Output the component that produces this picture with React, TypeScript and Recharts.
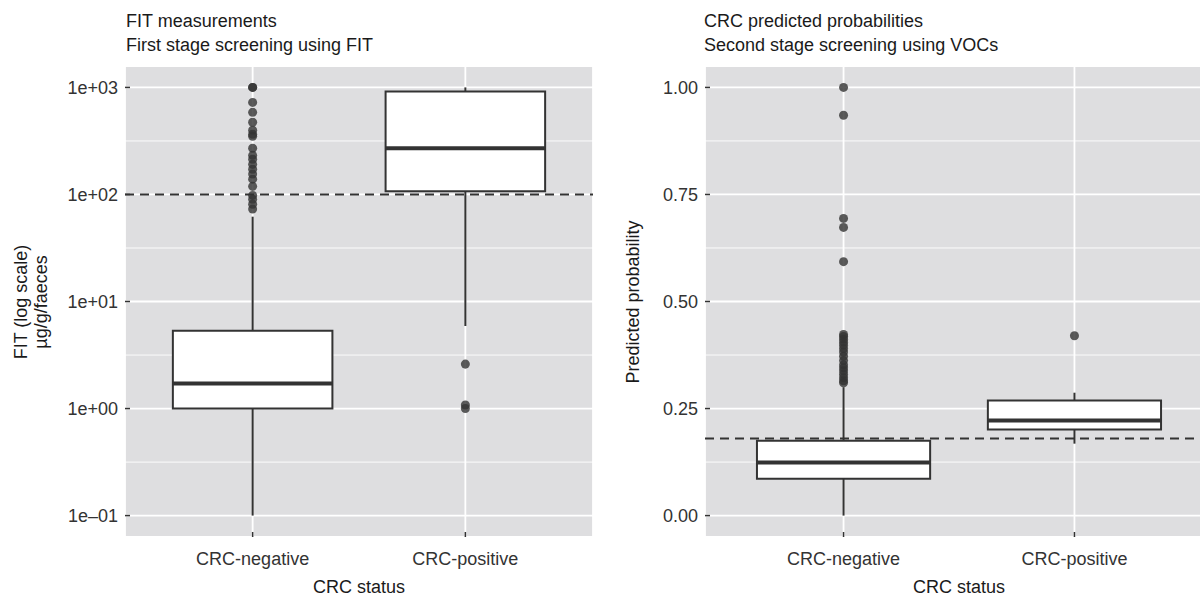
import {
  ComposedChart,
  XAxis,
  YAxis,
  CartesianGrid,
  ReferenceArea,
  ReferenceLine,
  Scatter,
} from 'recharts';

const categories = ['CRC-negative', 'CRC-positive'];

// FIT panel, µg/g faeces on a log scale
const fitTicks = [0.1, 1, 10, 100, 1000];
const fitMinorTicks = [0.316, 3.16, 31.6, 316];
const fitLower = [0.1, 5.9];
const fitQ1 = [1.0, 107];
const fitMedian = [1.71, 270];
const fitQ3 = [5.34, 918];
const fitUpper = [62, 1000];
const fitOutliersNeg = [1000, 1000, 724, 585, 472, 398, 365, 349, 270, 232, 213, 191, 172, 155, 139, 119, 98, 90, 81, 73];
const fitOutliersPos = [2.6, 1.08, 1.0];
const fitCutoff = 100;

// VOC panel, predicted probabilities
const vocTicks = [0, 0.25, 0.5, 0.75, 1];
const vocMinorTicks = [0.125, 0.375, 0.625, 0.875];
const vocLower = [0.0, 0.168];
const vocQ1 = [0.086, 0.201];
const vocMedian = [0.124, 0.222];
const vocQ3 = [0.175, 0.269];
const vocUpper = [0.3, 0.287];
const vocOutliersNeg = [1.0, 0.935, 0.694, 0.673, 0.593, 0.423, 0.418, 0.412, 0.405, 0.398, 0.39, 0.382, 0.372, 0.362, 0.352, 0.345, 0.338, 0.33, 0.322, 0.315, 0.31];
const vocOutliersPos = [0.42];
const vocCutoff = 0.18;

const font = '"Liberation Sans", Arial, Helvetica, sans-serif';
const ink = '#333333';
const panelBg = '#dedee0';

const fmtLog = (v: number) => {
  const e = Math.round(Math.log10(v));
  const sign = e < 0 ? '\u2013' : '+';
  return `1e${sign}${String(Math.abs(e)).padStart(2, '0')}`;
};
const fmtProb = (v: number) => v.toFixed(2);

function YTick(props: any) {
  const { x, y, payload, fmt } = props;
  return (
    <g>
      <line x1={x} x2={x + 5} y1={y} y2={y} stroke={ink} strokeWidth={1.5} />
      <text x={x - 7} y={y + 6.5} textAnchor="end" fontSize={18} fill={ink} fontFamily={font}>
        {fmt(payload.value)}
      </text>
    </g>
  );
}

function XTick(props: any) {
  const { x, y, payload } = props;
  return (
    <g>
      <line x1={x} x2={x} y1={y - 5} y2={y} stroke={ink} strokeWidth={1.5} />
      <text x={x} y={y + 28} textAnchor="middle" fontSize={18} fill={ink} fontFamily={font}>
        {categories[payload.value - 1]}
      </text>
    </g>
  );
}

function boxes(lower: number[], q1: number[], med: number[], q3: number[], upper: number[]) {
  return categories.flatMap((c, i) => {
    const x = i + 1;
    return [
      <ReferenceLine key={c + 'wl'} segment={[{ x, y: lower[i] }, { x, y: q1[i] }]} stroke={ink} strokeWidth={2} />,
      <ReferenceLine key={c + 'wu'} segment={[{ x, y: q3[i] }, { x, y: upper[i] }]} stroke={ink} strokeWidth={2} />,
      <ReferenceArea key={c + 'box'} x1={x - 0.375} x2={x + 0.375} y1={q1[i]} y2={q3[i]} fill="#ffffff" fillOpacity={1} stroke={ink} strokeWidth={2} />,
      <ReferenceLine key={c + 'med'} segment={[{ x: x - 0.375, y: med[i] }, { x: x + 0.375, y: med[i] }]} stroke={ink} strokeWidth={4} />,
    ];
  });
}

const toPoints = (neg: number[], pos: number[]) => [
  ...neg.map((y) => ({ x: 1, y })),
  ...pos.map((y) => ({ x: 2, y })),
];

function Title({ left, lines }: { left: number; lines: string[] }) {
  return (
    <div style={{ position: 'absolute', left, top: 9, fontFamily: font, fontSize: 18, lineHeight: '24px', color: '#1a1a1a', whiteSpace: 'nowrap' }}>
      {lines.map((l) => (
        <div key={l}>{l}</div>
      ))}
    </div>
  );
}

const xTitle = (cx: number) => () => (
  <text x={cx} y={593} textAnchor="middle" fontSize={18} fill="#1a1a1a" fontFamily={font}>
    CRC status
  </text>
);

function FitPanel() {
  return (
    <ComposedChart width={600} height={597} margin={{ top: 66, right: 7, bottom: 0, left: 0 }}>
      <CartesianGrid fill={panelBg} fillOpacity={1} stroke="#ffffff" strokeWidth={0.9} vertical={false} horizontalValues={fitMinorTicks} />
      <CartesianGrid stroke="#ffffff" strokeWidth={1.8} />
      <XAxis
        type="number"
        dataKey="x"
        domain={[0.4, 2.6]}
        ticks={[1, 2]}
        allowDataOverflow
        axisLine={false}
        tickLine={false}
        tickSize={0}
        tickMargin={0}
        height={60}
        tick={(p: any) => <XTick {...p} />}
        label={{ content: xTitle(359) }}
      />
      <YAxis
        type="number"
        dataKey="y"
        scale="log"
        domain={[Math.pow(10, -1.2), Math.pow(10, 3.2)]}
        ticks={fitTicks}
        allowDataOverflow
        axisLine={false}
        tickLine={false}
        tickSize={0}
        tickMargin={0}
        width={125}
        tick={(p: any) => <YTick {...p} fmt={fmtLog} />}
        label={{
          content: () => (
            <g fontSize={18} fill="#1a1a1a" fontFamily={font}>
              <text x={27} y={302} textAnchor="middle" transform="rotate(-90, 27, 302)">FIT (log scale)</text>
              <text x={47} y={302} textAnchor="middle" transform="rotate(-90, 47, 302)">µg/g/faeces</text>
            </g>
          ),
        }}
      />
      {boxes(fitLower, fitQ1, fitMedian, fitQ3, fitUpper)}
      <ReferenceLine y={fitCutoff} stroke={ink} strokeWidth={2} strokeDasharray="9 6" />
      <Scatter data={toPoints(fitOutliersNeg, fitOutliersPos)} fill={ink} fillOpacity={0.8} isAnimationActive={false} />
    </ComposedChart>
  );
}

function VocPanel() {
  return (
    <ComposedChart width={620} height={597} margin={{ top: 66, right: 7, bottom: 0, left: 0 }}>
      <CartesianGrid fill={panelBg} fillOpacity={1} stroke="#ffffff" strokeWidth={0.9} vertical={false} horizontalValues={vocMinorTicks} />
      <CartesianGrid stroke="#ffffff" strokeWidth={1.8} />
      <XAxis
        type="number"
        dataKey="x"
        domain={[0.4, 2.6]}
        ticks={[1, 2]}
        allowDataOverflow
        axisLine={false}
        tickLine={false}
        tickSize={0}
        tickMargin={0}
        height={60}
        tick={(p: any) => <XTick {...p} />}
        label={{ content: xTitle(359) }}
      />
      <YAxis
        type="number"
        dataKey="y"
        domain={[-0.05, 1.05]}
        ticks={vocTicks}
        allowDataOverflow
        axisLine={false}
        tickLine={false}
        tickSize={0}
        tickMargin={0}
        width={105}
        tick={(p: any) => <YTick {...p} fmt={fmtProb} />}
        label={{
          content: () => (
            <text x={39} y={302} textAnchor="middle" transform="rotate(-90, 39, 302)" fontSize={18} fill="#1a1a1a" fontFamily={font}>
              Predicted probability
            </text>
          ),
        }}
      />
      {boxes(vocLower, vocQ1, vocMedian, vocQ3, vocUpper)}
      <ReferenceLine y={vocCutoff} stroke={ink} strokeWidth={2} strokeDasharray="9 6" />
      <Scatter data={toPoints(vocOutliersNeg, vocOutliersPos)} fill={ink} fillOpacity={0.8} isAnimationActive={false} />
    </ComposedChart>
  );
}

export default function App() {
  return (
    <div style={{ position: 'absolute', left: 0, top: 0, width: 1200, height: 597, overflow: 'hidden', background: '#ffffff' }}>
      <div style={{ position: 'absolute', left: 0, top: 0 }}>
        <FitPanel />
      </div>
      <div style={{ position: 'absolute', left: 600, top: 0 }}>
        <VocPanel />
      </div>
      <Title left={126} lines={['FIT measurements', 'First stage screening using FIT']} />
      <Title left={704} lines={['CRC predicted probabilities', 'Second stage screening using VOCs']} />
    </div>
  );
}
